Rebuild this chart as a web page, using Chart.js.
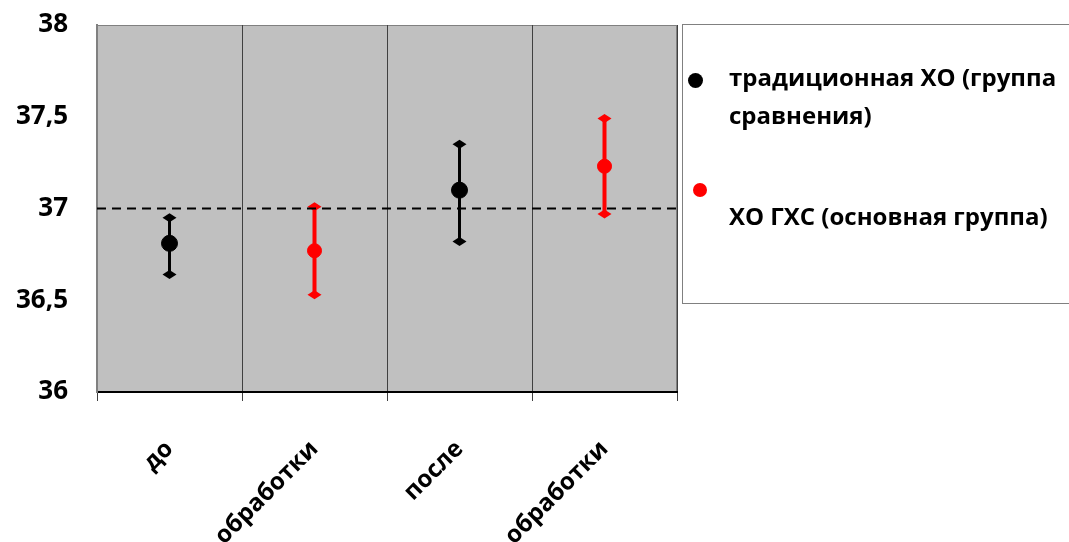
<!DOCTYPE html>
<html>
<head>
<meta charset="utf-8">
<script src="https://cdn.jsdelivr.net/npm/chart.js@4"></script>
<style>
    body { margin: 0; background: #ffffff; overflow: hidden; }
    #wrap { position: relative; width: 1069px; height: 542px; overflow: hidden; }
    #legendBox {
        position: absolute; left: 682px; top: 24px; width: 420px; height: 280px;
        border: 1px solid #808080; box-sizing: border-box;
        font-family: "Open Sans", sans-serif; font-weight: 700; font-size: 24px; color: #000;
    }
    .dot { position: absolute; border-radius: 50%; }
    .txt { position: absolute; left: 46px; line-height: 38px; white-space: nowrap; }
</style>
</head>
<body>
<div id="wrap">
    <canvas id="chart"></canvas>
    <div id="legendBox">
        <div class="dot" style="left:5px; top:48px; width:15px; height:15px; background:#000;"></div>
        <div class="txt" style="top:33px;">традиционная ХО (группа<br>сравнения)</div>
        <div class="dot" style="left:10px; top:158px; width:14px; height:14px; background:#ff0000;"></div>
        <div class="txt" style="top:172px;">ХО ГХС (основная группа)</div>
    </div>
</div>
<script>
// Data
const categories = ['до', 'обработки', 'после', 'обработки'];
const tradMean = [36.81, null, 37.10, null];
const tradLow = [36.64, null, 36.82, null];
const tradHigh = [36.95, null, 37.35, null];
const ghsMean = [null, 36.77, null, 37.23];
const ghsLow = [null, 36.53, null, 36.97];
const ghsHigh = [null, 37.01, null, 37.49];
const yTicks = [36, 36.5, 37, 37.5, 38];
const refLine = 37;

const fontFamily = '"Open Sans", sans-serif';

/**
 * Gray plot background + dashed reference line
 */
const plotDecor = {
    id: 'plotDecor',
    beforeDraw(chart) {
        const { ctx, chartArea: a } = chart;
        ctx.save();
        ctx.fillStyle = '#c0c0c0';
        ctx.fillRect(a.left, a.top, a.right - a.left, a.bottom - a.top);
        ctx.strokeStyle = '#808080';
        ctx.lineWidth = 1;
        ctx.strokeRect(a.left + 0.5, a.top + 0.5, a.right - a.left - 1, a.bottom - a.top);
        ctx.restore();
    },
    afterDatasetsDraw(chart) {
        const { ctx, chartArea: a, scales } = chart;
        const y = scales.y.getPixelForValue(refLine);
        ctx.save();
        ctx.strokeStyle = '#000';
        ctx.lineWidth = 2;
        ctx.setLineDash([9, 6]);
        ctx.beginPath();
        ctx.moveTo(a.left, y);
        ctx.lineTo(a.right, y);
        ctx.stroke();
        ctx.restore();
    }
};

/**
 * Error bars with diamond caps
 */
const errorBars = {
    id: 'errorBars',
    beforeDatasetsDraw(chart) {
        const { ctx, scales } = chart;
        const sets = [
            { low: tradLow, high: tradHigh, color: '#000000', width: 3 },
            { low: ghsLow, high: ghsHigh, color: '#ff0000', width: 4 }
        ];
        ctx.save();
        sets.forEach(s => {
            s.low.forEach((lo, i) => {
                if (lo === null) return;
                const x = scales.x.getPixelForValue(i);
                const y1 = scales.y.getPixelForValue(lo);
                const y2 = scales.y.getPixelForValue(s.high[i]);
                ctx.strokeStyle = s.color;
                ctx.fillStyle = s.color;
                ctx.lineWidth = s.width;
                ctx.beginPath();
                ctx.moveTo(x, y1);
                ctx.lineTo(x, y2);
                ctx.stroke();
                [y1, y2].forEach(y => {
                    ctx.beginPath();
                    ctx.moveTo(x - 7, y);
                    ctx.lineTo(x, y - 4.5);
                    ctx.lineTo(x + 7, y);
                    ctx.lineTo(x, y + 4.5);
                    ctx.closePath();
                    ctx.fill();
                });
            });
        });
        ctx.restore();
    }
};

new Chart(document.getElementById('chart'), {
    type: 'line',
    data: {
        labels: categories,
        datasets: [
            {
                label: 'традиционная ХО (группа сравнения)',
                data: tradMean,
                showLine: false,
                pointRadius: 8,
                pointBackgroundColor: '#000000',
                pointBorderColor: '#000000'
            },
            {
                label: 'ХО ГХС (основная группа)',
                data: ghsMean,
                showLine: false,
                pointRadius: 7,
                pointBackgroundColor: '#ff0000',
                pointBorderColor: '#ff0000'
            }
        ]
    },
    options: {
        responsive: true,
        maintainAspectRatio: false,
        animation: false,
        layout: {
            autoPadding: false,
            padding: { top: 25, right: 392, left: 0, bottom: 0 }
        },
        scales: {
            x: {
                type: 'category',
                offset: true,
                grid: {
                    offset: true,
                    color: '#404040',
                    lineWidth: 1,
                    tickLength: 9,
                    tickColor: '#404040'
                },
                border: { color: '#000000', width: 2 },
                ticks: {
                    minRotation: 45,
                    maxRotation: 45,
                    padding: 34,
                    color: '#000000',
                    font: { family: fontFamily, size: 24, weight: 'bold' }
                },
                afterFit: function(scale) {
                    scale.height = 150;
                }
            },
            y: {
                min: 36,
                max: 38,
                afterBuildTicks: function(scale) {
                    scale.ticks = yTicks.map(v => ({ value: v }));
                },
                grid: { display: false },
                border: { color: '#808080', width: 2 },
                ticks: {
                    padding: 21,
                    color: '#000000',
                    font: { family: fontFamily, size: 26, weight: 'bold' },
                    callback: function(value) {
                        return String(value).replace('.', ',');
                    }
                },
                afterFit: function(scale) {
                    scale.width = 97;
                    // keep the plot top at the layout padding
                    scale.paddingTop = 0;
                    scale.paddingBottom = 0;
                }
            }
        },
        plugins: {
            legend: { display: false },
            tooltip: { enabled: false }
        }
    },
    plugins: [plotDecor, errorBars]
});
</script>
</body>
</html>
